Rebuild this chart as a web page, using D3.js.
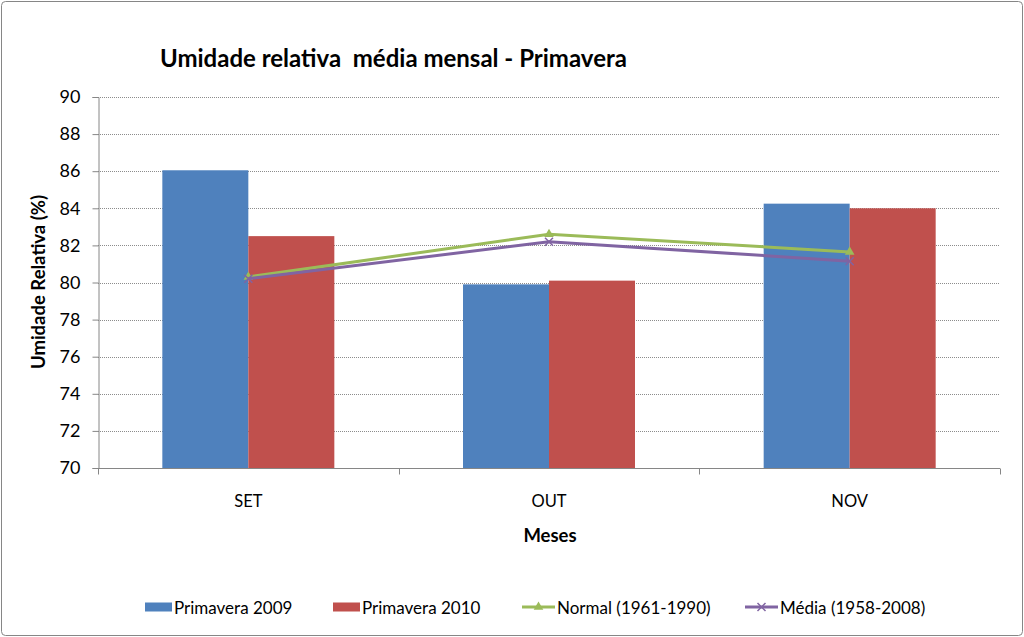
<!DOCTYPE html>
<html><head><meta charset="utf-8">
<script src="https://cdn.jsdelivr.net/npm/d3@7/dist/d3.min.js"></script>
<style>body{margin:0;background:#fff}svg{display:block}</style>
</head><body>
<svg id="c" width="1024" height="637"></svg>
<script>
const categories = ["SET", "OUT", "NOV"];
const prim2009 = [86.05, 79.9, 84.25];
const prim2010 = [82.5, 80.1, 84.0];
const normal = [80.3, 82.6, 81.65];
const media = [80.2, 82.2, 81.15];
const yTicks = [70, 72, 74, 76, 78, 80, 82, 84, 86, 88, 90];
const seriesNames = ["Primavera 2009", "Primavera 2010", "Normal (1961-1990)", "Média (1958-2008)"];
const colors = ["#4F81BD", "#C0504D", "#9BBB59", "#8064A2"];

const font = "Lato, 'Open Sans', sans-serif";
const svg = d3.select("#c");
svg.append("rect").attr("x", 1.5).attr("y", 1.5).attr("width", 1021).attr("height", 634)
  .attr("rx", 4).attr("fill", "#fff").attr("stroke", "#868686").attr("stroke-width", 1);

const L = 98, R = 1000, T = 97, B = 468;
const x = d3.scaleBand().domain(categories).range([L, R]);
const y = d3.scaleLinear().domain([70, 90]).range([B, T]);
const barW = 86;

// grid
svg.append("g").selectAll("line").data(yTicks.filter(d => d > 70)).join("line")
  .attr("x1", L).attr("x2", R).attr("y1", d => Math.round(y(d)) + 0.5).attr("y2", d => Math.round(y(d)) + 0.5)
  .attr("stroke", "#8c8c8c").attr("stroke-width", 1).attr("stroke-dasharray", "1,1");

// bars
const bars = [prim2009, prim2010];
bars.forEach((arr, i) => {
  svg.append("g").selectAll("rect").data(categories).join("rect")
    .attr("x", c => x(c) + x.bandwidth() / 2 - barW + i * barW)
    .attr("y", (c, j) => y(arr[j]))
    .attr("width", barW)
    .attr("height", (c, j) => B - y(arr[j]))
    .attr("fill", colors[i]);
});

// axes
const yAxis = svg.append("g").attr("transform", `translate(${L + 0.5},0)`)
  .call(d3.axisLeft(y).tickValues(yTicks).tickSize(6).tickPadding(12).tickFormat(d3.format("d")));
yAxis.select(".domain").attr("stroke", "#868686");
yAxis.selectAll(".tick line").attr("stroke", "#868686");
yAxis.selectAll("text").attr("font-family", font).attr("font-size", 18).attr("fill", "#000");

const xAxisG = svg.append("g").attr("transform", `translate(0,${B + 0.5})`);
xAxisG.append("line").attr("x1", L).attr("x2", R).attr("stroke", "#868686");
xAxisG.selectAll("line.tk").data([...categories.map(c => x(c)), R]).join("line").attr("class", "tk")
  .attr("x1", d => Math.round(d) + 0.5).attr("x2", d => Math.round(d) + 0.5).attr("y1", 0).attr("y2", 6)
  .attr("stroke", "#868686");
xAxisG.selectAll("text").data(categories).join("text")
  .attr("x", c => x(c) + x.bandwidth() / 2).attr("y", 38)
  .attr("text-anchor", "middle").attr("font-family", font).attr("font-size", 16.5).text(c => c);

// lines
const lineGen = d3.line().x((d, i) => x(categories[i]) + x.bandwidth() / 2).y(d => y(d));
[[normal, colors[2], "tri"], [media, colors[3], "x"]].forEach(([arr, col, mk]) => {
  svg.append("path").datum(arr).attr("d", lineGen).attr("fill", "none").attr("stroke", col).attr("stroke-width", 3);
  const g = svg.append("g");
  arr.forEach((v, i) => {
    const cx = x(categories[i]) + x.bandwidth() / 2, cy = y(v);
    if (mk === "tri") {
      g.append("path").attr("d", d3.symbol(d3.symbolTriangle, 40)()).attr("transform", `translate(${cx},${cy})`).attr("fill", col);
    } else {
      g.append("path").attr("d", `M${cx-4},${cy-4}L${cx+4},${cy+4}M${cx-4},${cy+4}L${cx+4},${cy-4}`).attr("stroke", col).attr("stroke-width", 1.5);
    }
  });
});

// titles
svg.append("text").attr("x", 160).attr("y", 67).attr("font-family", font).attr("font-weight", "bold")
  .attr("font-size", 24).attr("xml:space", "preserve").text("Umidade relativa  média mensal - Primavera");
svg.append("text").attr("x", 550).attr("y", 542).attr("text-anchor", "middle").attr("font-family", font)
  .attr("font-weight", "bold").attr("font-size", 18.5).text("Meses");
svg.append("text").attr("transform", "translate(45,282) rotate(-90)").attr("text-anchor", "middle")
  .attr("font-family", font).attr("font-weight", "bold").attr("font-size", 18.5).text("Umidade Relativa (%)");

// legend
const legX = [145, 333, 522, 745];
const ly = 607;
seriesNames.forEach((n, i) => {
  const g = svg.append("g").attr("transform", `translate(${legX[i]},${ly})`);
  if (i < 2) {
    g.append("rect").attr("x", 0).attr("y", -4.5).attr("width", 27).attr("height", 9).attr("fill", colors[i]);
  } else {
    g.append("line").attr("x1", 0).attr("x2", 33).attr("stroke", colors[i]).attr("stroke-width", 3);
    if (i === 2) g.append("path").attr("d", d3.symbol(d3.symbolTriangle, 40)()).attr("transform", "translate(16.5,0)").attr("fill", colors[i]);
    else g.append("path").attr("d", "M12.5,-4L20.5,4M12.5,4L20.5,-4").attr("stroke", colors[i]).attr("stroke-width", 1.5);
  }
  g.append("text").attr("x", i < 2 ? 29 : 35).attr("y", 6.5).attr("font-family", font).attr("font-size", 17).text(n);
});
</script>
</body></html>
